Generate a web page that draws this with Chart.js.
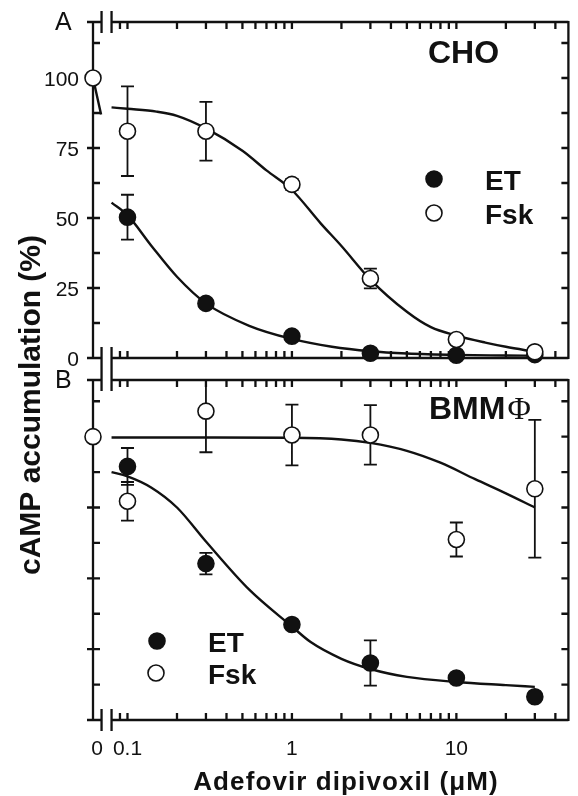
<!DOCTYPE html>
<html>
<head>
<meta charset="utf-8">
<script src="https://cdn.jsdelivr.net/npm/chart.js@4.4.0/dist/chart.umd.min.js"></script>
<style>
  body { margin: 0; background: #fff; }
  #wrap { position: relative; width: 578px; height: 796px; }
  #wrap canvas { position: absolute; left: 0; top: 0; }
</style>
</head>
<body>
<div id="wrap">
  <canvas id="chartA" width="578" height="796"></canvas>
  <canvas id="chartB" width="578" height="796"></canvas>
</div>
<script>
// adefovir dipivoxil doses (uM)
var doses = [0.1, 0.3, 1, 3, 10, 30];

// panel A (CHO), % of control
var fskA = [81, 81, 62, 28.4, 6.6, 2.2];
var fskErrA = [16, 10.5, 2, 3.5, 0, 0];
var etA = [50.3, 19.5, 7.8, 1.7, 1, 1.2];
var etErrA = [8, 0, 0, 0, 0, 0];

// fitted curves
var fskFitXA = [0.08, 0.1, 0.15, 0.2, 0.3, 0.5, 0.7, 1, 1.5, 2, 3, 5, 7, 10, 15, 20, 30];
var fskFitYA = [89.5, 89, 88, 86.5, 82, 74, 67, 60, 48, 40, 28, 16.5, 11, 8, 5.5, 4, 2.2];
var etFitXA = [0.08, 0.1, 0.14, 0.2, 0.3, 0.55, 1, 1.75, 3, 5, 10, 20, 30];
var etFitYA = [55.5, 51, 40, 29, 19.5, 11.5, 6.8, 4, 2.4, 1.6, 1.1, 0.9, 0.8];

// panel B (BMM)
var fskB = [77.2, 109, 100.6, 100.6, 63.7, 81.6];
var fskErrB = [6.8, 14.5, 10.7, 10.5, 6, 24.3];
var etB = [89.5, 55.2, 33.7, 20.1, 14.8, 8.2];
var etErrB = [6.5, 3.8, 0, 8, 0, 0];

var fskFitXB = [0.08, 0.3, 1, 2, 3, 5, 8, 13, 20, 30];
var fskFitYB = [99.7, 99.7, 99.6, 99, 97.8, 95, 90.8, 85, 80, 75];
var etFitXB = [0.08, 0.1, 0.14, 0.2, 0.3, 0.55, 1, 1.3, 2, 3, 5, 10, 20, 30];
var etFitYB = [87.5, 86, 82, 75, 63, 46, 33, 27.5, 21.6, 18, 15.2, 13.4, 12.3, 11.7];

// control (no drug) point, plotted left of the axis break
var zeroDose = [0];
var zeroA = [100];
var zeroB = [100];

// axis ticks
var yTicks = [0, 12.5, 25, 37.5, 50, 62.5, 75, 87.5, 100, 112.5];
var yLabels = [0, 25, 50, 75, 100];
var xTicks = [0.08, 0.09, 0.1, 0.2, 0.3, 0.4, 0.5, 0.6, 0.7, 0.8, 0.9,
              1, 2, 3, 4, 5, 6, 7, 8, 9, 10, 20, 30, 40];
var xLabels = [0.1, 1, 10];

var INK = '#111';

function pts(xs, ys) {
    return xs.map(function (x, i) { return { x: x, y: ys[i] }; });
}

function font(size, bold, family) {
    return (bold ? 'bold ' : '') + size + 'px ' + (family || '"Liberation Sans", Arial, sans-serif');
}

function curve(xs, ys, axis) {
    return {
        type: 'line', data: pts(xs, ys), xAxisID: axis || 'x',
        borderColor: INK, borderWidth: 2.4, pointRadius: 0, fill: false,
        cubicInterpolationMode: 'monotone', clip: false, order: 5
    };
}

function markers(xs, ys, filled, errs, axis) {
    return {
        type: 'scatter', data: pts(xs, ys), xAxisID: axis || 'x', errors: errs,
        pointRadius: 8, pointBorderWidth: 1.6, pointBorderColor: INK,
        pointBackgroundColor: filled ? INK : '#fff', clip: false,
        order: filled ? 2 : 1
    };
}

var decor = {
    id: 'decor',
    beforeDatasetsDraw: function (chart, args, cfg) {
        var ctx = chart.ctx, a = chart.chartArea;
        var xs = chart.scales.x, ys = chart.scales.y;
        var brk = xs.getPixelForValue(0.08);
        ctx.save();
        ctx.strokeStyle = INK;
        ctx.lineWidth = 2.3;
        ctx.beginPath();
        ctx.moveTo(a.left, a.top - 1); ctx.lineTo(a.left, a.bottom + 1);
        ctx.moveTo(a.right, a.top - 1); ctx.lineTo(a.right, a.bottom + 1);
        [a.top, a.bottom].forEach(function (y, k) {
            ctx.moveTo(k === 0 ? a.left - 6 : a.left, y); ctx.lineTo(brk - 10, y);
            ctx.moveTo(brk, y); ctx.lineTo(a.right, y);
            ctx.moveTo(brk - 10, y - 11); ctx.lineTo(brk - 10, y + 11);
            ctx.moveTo(brk, y - 11); ctx.lineTo(brk, y + 11);
        });
        // x ticks, inward on bottom and top
        xTicks.forEach(function (v) {
            var px = xs.getPixelForValue(v);
            ctx.moveTo(px, a.bottom); ctx.lineTo(px, a.bottom - 7);
            ctx.moveTo(px, a.top); ctx.lineTo(px, a.top + 7);
        });
        // y ticks
        yTicks.forEach(function (v) {
            var py = ys.getPixelForValue(v);
            var major = v % 25 === 0;
            ctx.moveTo(a.left - (major ? 6 : 0), py); ctx.lineTo(a.left + 7, py);
            ctx.moveTo(a.right, py); ctx.lineTo(a.right - 7, py);
        });
        ctx.stroke();

        // error bars
        ctx.lineWidth = 1.8;
        ctx.beginPath();
        chart.data.datasets.forEach(function (ds) {
            if (!ds.errors) return;
            ds.data.forEach(function (p, i) {
                var e = ds.errors[i];
                if (!e) return;
                var px = xs.getPixelForValue(p.x);
                var top = Math.min(p.y + e, ys.max);
                var yt = ys.getPixelForValue(top);
                var yb = ys.getPixelForValue(p.y - e);
                ctx.moveTo(px, yt); ctx.lineTo(px, yb);
                if (top < ys.max) { ctx.moveTo(px - 6.5, yt); ctx.lineTo(px + 6.5, yt); }
                ctx.moveTo(px - 6.5, yb); ctx.lineTo(px + 6.5, yb);
            });
        });
        ctx.stroke();
        ctx.restore();
    },
    afterDraw: function (chart, args, cfg) {
        var ctx = chart.ctx, a = chart.chartArea;
        var xs = chart.scales.x, ys = chart.scales.y, x0 = chart.scales.x0;
        ctx.save();
        ctx.fillStyle = INK;
        ctx.textBaseline = 'alphabetic';

        // panel letter
        ctx.font = font(25, false);
        ctx.textAlign = 'left';
        ctx.fillText(cfg.letter, 55, a.top + 8);

        if (cfg.yLabels) {
            ctx.font = font(21, false);
            ctx.textAlign = 'right';
            yLabels.forEach(function (v) {
                ctx.fillText(String(v), a.left - 14, ys.getPixelForValue(v) + 8);
            });
        }
        if (cfg.xLabels) {
            ctx.font = font(21, false);
            ctx.textAlign = 'center';
            ctx.fillText('0', x0.getPixelForValue(zeroDose[0]) + 4, 755);
            xLabels.forEach(function (v) {
                ctx.fillText(String(v), xs.getPixelForValue(v), 755);
            });
            ctx.save();
            ctx.font = font(26, true);
            ctx.letterSpacing = '1.1px';
            ctx.fillText('Adefovir dipivoxil (\u03BCM)', 346, 790);
            ctx.restore();

            ctx.save();
            ctx.translate(40, 405);
            ctx.rotate(-Math.PI / 2);
            ctx.font = font(30, true);
            ctx.textAlign = 'center';
            ctx.fillText('cAMP accumulation (%)', 0, 0);
            ctx.restore();
        }

        // cell type title
        ctx.textAlign = 'left';
        ctx.font = font(32, true);
        ctx.fillText(cfg.title, cfg.titleX, cfg.titleY);
        if (cfg.titleSuffix) {
            var w = ctx.measureText(cfg.title).width;
            ctx.font = font(32, false, '"Liberation Serif", "Times New Roman", serif');
            ctx.fillText(cfg.titleSuffix, cfg.titleX + w + 2, cfg.titleY);
        }

        // legend
        var lg = cfg.legend;
        [['ET', true], ['Fsk', false]].forEach(function (item, k) {
            var cy = lg.y[k];
            ctx.beginPath();
            ctx.arc(lg.x[k], cy, 8, 0, Math.PI * 2);
            ctx.fillStyle = item[1] ? INK : '#fff';
            ctx.fill();
            ctx.lineWidth = 1.6;
            ctx.strokeStyle = INK;
            ctx.stroke();
            ctx.fillStyle = INK;
            ctx.font = font(28, true);
            ctx.fillText(item[0], lg.tx, cy + 11);
        });
        ctx.restore();
    }
};

function makePanel(id, padTop, padBottom, datasets, cfg) {
    return new Chart(id, {
        data: { datasets: datasets },
        options: {
            responsive: false,
            animation: false,
            devicePixelRatio: 1,
            layout: { padding: { left: 93, right: 2, top: padTop, bottom: padBottom } },
            scales: {
                x: { type: 'logarithmic', min: 0.0617, max: 48, display: false },
                x0: { type: 'linear', min: 0, max: 100, display: false },
                y: { type: 'linear', min: 0, max: 120, display: false }
            },
            plugins: { legend: { display: false }, tooltip: { enabled: false }, decor: cfg }
        },
        plugins: [decor]
    });
}

makePanel('chartA', 22, 438, [
    curve(fskFitXA, fskFitYA),
    curve(etFitXA, etFitYA),
    curve([0, 1.7], [100, 87], 'x0'),
    markers(doses, fskA, false, fskErrA),
    markers(doses, etA, true, etErrA),
    markers(zeroDose, zeroA, false, null, 'x0')
], {
    letter: 'A', title: 'CHO', titleX: 428, titleY: 63, yLabels: true,
    legend: { x: [434, 434], y: [179, 213], tx: 485 }
});

makePanel('chartB', 380, 76, [
    curve(fskFitXB, fskFitYB),
    curve(etFitXB, etFitYB),
    markers(doses, fskB, false, fskErrB),
    markers(doses, etB, true, etErrB),
    markers(zeroDose, zeroB, false, null, 'x0')
], {
    letter: 'B', title: 'BMM', titleSuffix: '\u03A6', titleX: 429, titleY: 419, xLabels: true,
    legend: { x: [157, 156], y: [641, 673], tx: 208 }
});
</script>
</body>
</html>
